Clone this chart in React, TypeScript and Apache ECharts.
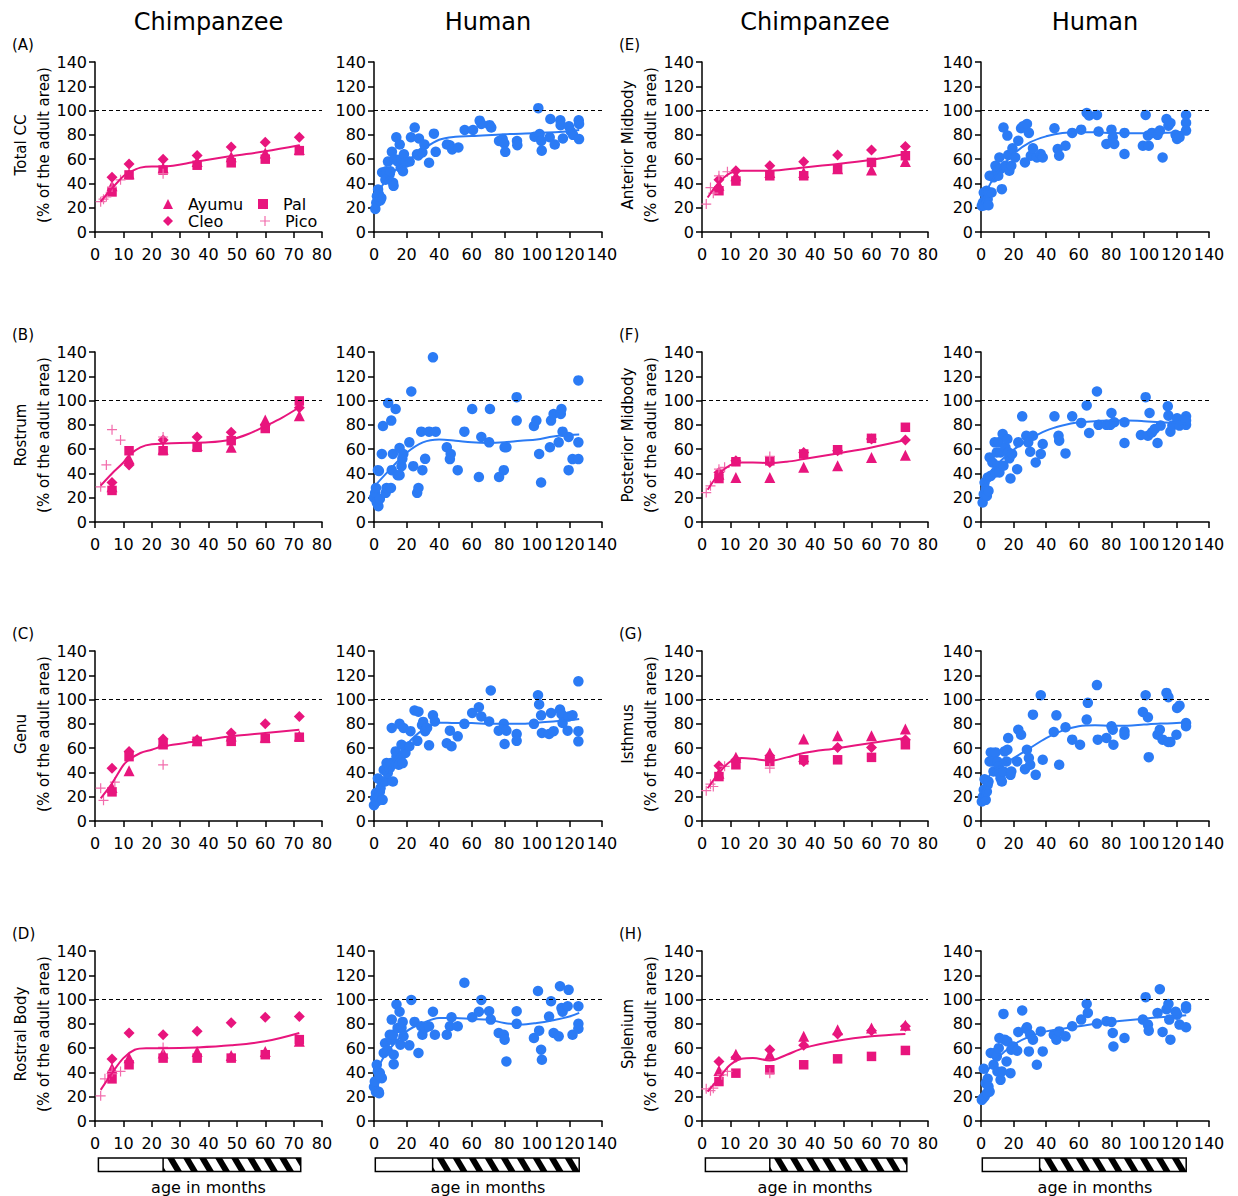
import React, { useEffect, useRef } from "react";
import * as echarts from "echarts";

const PINK = "#E8157D";
const PICO_PINK = "#F26CAC";
const BLUE = "#2B7BF5";
const FONT = "DejaVu Sans";
const PLUS = "path://M4.4,0H5.6V4.4H10V5.6H5.6V10H4.4V5.6H0V4.4H4.4Z";

const COL_TITLES = ["Chimpanzee", "Human", "Chimpanzee", "Human"];
const REGIONS = ["Total CC", "Rostrum", "Genu", "Rostral Body", "Anterior Midbody", "Posterior Midbody", "Isthmus", "Splenium"];
const LETTERS = ["(A)", "(B)", "(C)", "(D)", "(E)", "(F)", "(G)", "(H)"];
const Y_NAME2 = "(% of the adult area)";
const X_NAME = "age in months";
const CHIMP_AGES = [6, 12, 24, 36, 48, 60, 72];

// ---------- Chimpanzee values (Ayumu, Cleo, Pal at CHIMP_AGES; Pico as [age, value]) ----------
const AYUMU_A = [38, 48, 53, 58, 62, 65, 68];
const CLEO_A = [45, 56, 60, 63, 70, 74, 78];
const PAL_A = [33, 47, 51, 55, 57, 60, 67];
const PICO_A = [[2, 25], [3, 27], [4, 29], [6, 37], [9, 43], [24, 48]];
const FIT_A = [[2, 25], [6, 36], [10, 46], [12, 49], [16, 53], [20, 54], [24, 54], [36, 58], [48, 62.5], [60, 66.5], [72, 71.5]];

const AYUMU_B = [29, 52, 60, 63, 61.5, 84, 87.6];
const CLEO_B = [32.5, 47, 67.5, 70, 74, 80, 94];
const PAL_B = [26, 58.7, 58.7, 61.5, 67, 77, 99.7];
const PICO_B = [[2, 29], [4, 47], [6, 76], [9, 67.5], [24, 70]];
const FIT_B = [[2, 30], [6, 40], [10, 49], [12, 55], [16, 61.5], [20, 64], [30, 65], [40, 65.6], [48, 68], [54, 72.5], [60, 79], [66, 86], [72, 94.5]];

const AYUMU_C = [27.5, 41.3, 65.6, 66, 70, 69, 70];
const CLEO_C = [43.5, 57.3, 67.5, 67, 72.5, 80, 86];
const PAL_C = [24, 53, 62.8, 65.6, 65.6, 68, 69];
const PICO_C = [[2, 27], [3, 17], [7, 32], [24, 46.3]];
const FIT_C = [[2, 18.7], [6, 31], [10, 46], [12, 50.4], [16, 56], [20, 58.7], [24, 61.5], [36, 65.6], [48, 69.7], [60, 72.5], [72, 75.2]];

const AYUMU_D = [43.5, 52, 56, 57.3, 54, 57.3, 65.6];
const CLEO_D = [51, 72.5, 71, 74, 81, 85.5, 86];
const PAL_D = [34.7, 46.3, 51.8, 51.8, 51.8, 54.6, 67];
const PICO_D = [[2, 20.7], [3.5, 34.7], [6, 40.8], [9, 40.8], [24, 60.6]];
const FIT_D = [[2, 25.6], [6, 39.4], [10, 51.8], [14, 58.7], [18, 60], [24, 60], [36, 60.6], [48, 62.3], [60, 65.6], [72, 72.5]];

const AYUMU_E = [38.6, 46.3, 49, 49, 52, 51, 58];
const CLEO_E = [43, 50.4, 54.6, 57.9, 63.4, 67.5, 70.5];
const PAL_E = [34, 42, 46.3, 46.3, 52, 57.3, 62.8];
const PICO_E = [[1.5, 23], [3, 36.6], [4, 32], [6, 46.3], [9, 49.6]];
const FIT_E = [[2, 28.4], [6, 40.8], [10, 48.5], [14, 50.4], [20, 50.4], [24, 50.4], [36, 53.2], [48, 56], [60, 59.5], [72, 64.2]];

const AYUMU_F = [39.4, 36.6, 36.6, 45, 46.3, 53.2, 55];
const CLEO_F = [40.8, 50.4, 49, 57.3, 58.7, 68.3, 67.5];
const PAL_F = [35.8, 49.6, 50.4, 56, 59.5, 68.9, 78];
const PICO_F = [[1.5, 24.2], [3, 29.8], [6, 43.5], [8, 45], [24, 54]];
const FIT_F = [[2, 26.5], [6, 39.4], [10, 46.8], [14, 49], [18, 49], [24, 48.5], [30, 49.6], [36, 51.8], [48, 56.5], [60, 61.4], [72, 67.5]];

const AYUMU_G = [39.4, 52.6, 56, 67.5, 70.3, 70.3, 75.8];
const CLEO_G = [45.5, 50.4, 53.7, 49, 60.6, 60.6, 67];
const PAL_G = [36.6, 46.3, 49, 50.4, 50.4, 52.4, 62.8];
const PICO_G = [[1.5, 25], [3, 30.3], [4, 28.4], [8, 45], [24, 43.5]];
const FIT_G = [[2, 27], [6, 39.4], [10, 49], [14, 51.8], [18, 51.2], [24, 49.6], [30, 52.4], [36, 56], [48, 60], [60, 64.2], [72, 68.3]];

const AYUMU_H = [41.6, 55, 55, 69.7, 75.2, 76.6, 78.8];
const CLEO_H = [49, 52.4, 58.7, 62.3, 71.6, 74.4, 78];
const PAL_H = [32.5, 39.4, 42.2, 46.3, 51.2, 53.2, 58.1];
const PICO_H = [[1.5, 26.5], [3, 25], [4, 27], [7, 38], [9, 40.8], [24, 39.4]];
const FIT_H = [[2, 24.2], [6, 35.3], [10, 46.3], [14, 51.2], [18, 51.8], [24, 49.9], [30, 54.6], [36, 60], [48, 66], [60, 69.7], [72, 71.6]];

// ---------- Human values [age, value] ----------
const HUMAN_A = [[0.8, 19], [1.4, 24], [1.8, 29.5], [2.5, 35], [3, 31], [3.9, 26], [4.5, 28], [5, 49], [6, 49], [7.5, 50], [7, 43], [8.6, 58], [9.6, 47.5], [10, 50], [11, 66], [11.7, 40.6], [12, 38], [12.7, 60], [13.7, 78], [14.7, 58], [15.8, 72], [16.4, 53], [16.8, 60], [17.8, 50], [18.4, 64], [19.4, 57], [21.9, 58], [22.7, 78], [25, 86], [26.4, 64], [27.6, 77], [27.2, 63], [29.7, 65.5], [31, 72], [33.8, 57], [36.8, 81], [37.9, 66], [44.8, 72], [46.5, 71.5], [48, 68], [51.8, 69.6], [55.7, 84], [60.8, 84], [64.9, 91.7], [65.9, 89], [71, 88], [72, 86], [76.8, 75], [79, 76.5], [80, 73], [80.6, 66], [87.8, 75], [88, 71.5], [98.6, 78.5], [100.9, 102], [101.7, 80.7], [102.7, 75], [103, 67], [108.3, 93], [107.9, 78], [111, 72], [114.4, 92], [114.6, 88], [116, 77], [119.7, 87], [120.8, 83], [122.2, 80], [125.7, 92], [125.9, 89], [125.9, 76.5]];
const FIT_HA = [[0.8, 25], [5, 38], [10, 47], [15, 53], [20, 58], [30, 68], [40, 76], [50, 78.5], [60, 79], [80, 80.5], [100, 81.5], [120, 83], [126, 84]];

const HUMAN_B = [[0, 20], [0.7, 24], [1.2, 28], [1.7, 16], [2.7, 13], [3.6, 19], [2.4, 42.7], [3, 42], [4.8, 56], [5.5, 79], [7.2, 24], [7.7, 28], [8.7, 98], [10.4, 28], [10.6, 83.5], [10.9, 42.7], [11.6, 56], [13.3, 93], [14.5, 38.6], [15.7, 38.6], [15.7, 61], [16.9, 46], [17.4, 52], [18, 56], [21.7, 65.6], [22.9, 107.5], [24.1, 46], [26.5, 24], [27.3, 28], [29, 74.4], [29.7, 42.7], [31.4, 52], [33.8, 74.4], [36.2, 135.6], [37.9, 74.4], [44.7, 61.5], [46.6, 51.8], [47.1, 56], [51.4, 42.7], [55.5, 74.4], [60.3, 93], [64.4, 37], [65.9, 70], [70.7, 65.6], [71.2, 93], [76.8, 37], [79.7, 42.7], [80.2, 61.5], [81.3, 61.5], [87.6, 102.8], [87.6, 83.5], [98.2, 79], [99.7, 83.5], [101.4, 56], [102.6, 32.5], [108, 61.5], [108.7, 83.5], [110.3, 89], [113.4, 65.6], [114.7, 89], [115.1, 93], [115.8, 74.4], [119.5, 70], [119.5, 42.7], [121.9, 51.8], [125.5, 51.8], [125.5, 116.6], [125.5, 65.6]];
const FIT_HB = [[0.7, 30], [10, 43.5], [20, 57], [30, 65.6], [40, 68], [50, 67], [60, 65.6], [70, 65], [80, 65.6], [90, 67], [100, 68], [110, 70.5], [120, 71.6], [126, 72]];

const HUMAN_C = [[0, 13], [0.7, 18.7], [1.2, 23], [1.7, 16], [2.4, 35], [3, 20], [3.6, 24], [4, 27], [4.8, 32.5], [5.3, 17.4], [6, 42], [6.8, 32.5], [7.7, 47.7], [8.4, 39.4], [9.7, 43.5], [10.4, 47.7], [10.9, 76.6], [11.6, 32.5], [13.3, 57.3], [13.8, 53], [15.2, 46.3], [15.7, 80], [16.2, 51.8], [16.9, 62.8], [17.6, 47.7], [18.1, 76.6], [19.3, 56], [21.7, 61.5], [22.4, 74], [24.9, 91], [27.3, 90], [26.6, 66], [29.5, 79], [30.2, 81.6], [31.4, 74], [32.6, 76.6], [33.8, 62.3], [36.2, 87], [37.4, 82], [44.7, 64], [46.6, 74.4], [47.6, 61.5], [51.4, 69.7], [55.5, 80], [60.3, 89], [64.4, 93.7], [65.9, 86], [70.7, 82], [71.7, 107.5], [76.6, 74.4], [79.7, 80], [80.2, 63.4], [81.3, 74.4], [87.6, 71.6], [87.6, 66], [98.2, 80], [100.7, 103.6], [101.4, 96], [102.6, 87], [103.1, 72.5], [107.5, 71.6], [108.7, 89], [110.3, 74], [114.2, 91.8], [115.1, 88], [115.8, 80.7], [118.9, 74.4], [119.5, 86], [121.9, 87], [125.5, 115], [125.5, 74], [125.5, 65.6]];
const FIT_HC = [[0.5, 16], [5, 32.5], [10, 45], [20, 62.8], [30, 75], [40, 81], [50, 80.7], [60, 80.7], [70, 80], [80, 80], [90, 80], [100, 81], [110, 82], [120, 83], [126, 84]];

const HUMAN_D = [[0, 28], [0.5, 32.5], [1.2, 24], [1.7, 46.3], [2.4, 40.8], [2.9, 24], [3.1, 22.8], [3.6, 39.4], [4, 36.6], [4.8, 35.3], [6, 56], [6.8, 64], [8.4, 58], [9.7, 71], [10.9, 67], [10.9, 83.5], [11.6, 71], [12.1, 54.6], [12.1, 46.8], [13.8, 96], [14.5, 76.6], [15.7, 90], [16.2, 62.8], [16.9, 76.6], [17.6, 81.6], [18.1, 69.7], [21.7, 62.3], [22.9, 99.7], [24.9, 81.6], [27.3, 56], [29, 78], [29.7, 71], [31.4, 76.6], [33.8, 78], [36.2, 90], [37.4, 71], [44.7, 71], [46.6, 78], [47.6, 85.4], [51.4, 78], [55.5, 113.8], [60.3, 85.4], [64.4, 90], [65.9, 99.7], [70.7, 90.4], [71.7, 83.5], [76.6, 72.5], [79.7, 71], [80.2, 67], [81.3, 49], [87.6, 90.4], [87.6, 80], [98.2, 68.3], [100.7, 107], [101.4, 74.4], [102.6, 58.7], [103.1, 50.4], [107.5, 86], [108.7, 98.6], [110.3, 72.5], [113.4, 69.7], [114.2, 111], [115.1, 93], [115.8, 90], [119.5, 108], [118.9, 94.5], [121.9, 71], [125.5, 94.5], [125.5, 80], [125.5, 76]];
const FIT_HD = [[0.5, 36.6], [5, 50.4], [10, 60], [20, 73.8], [30, 80.7], [40, 84.9], [50, 84.9], [60, 84], [70, 83.5], [80, 80.7], [90, 79.4], [100, 80.7], [110, 83], [120, 86], [126, 89]];

const HUMAN_E = [[0.5, 21.5], [1.2, 24.2], [1.7, 32.5], [2.2, 22], [2.9, 28.4], [3.4, 33.9], [4.1, 27], [4.6, 32.5], [4.6, 22], [5.3, 46.3], [6.5, 32.5], [7.7, 45], [8.9, 54.6], [9.7, 50.4], [10.6, 46.3], [11.3, 61.4], [12, 52], [12.8, 35.3], [13.8, 86], [15, 54.6], [16.2, 79.4], [16.7, 63.4], [17.4, 50.4], [18.6, 54.6], [19.3, 68.9], [21, 61.4], [22.9, 75.2], [24.6, 85.4], [25.8, 87], [27, 57.3], [28.2, 89], [29.4, 81.6], [30.6, 62.8], [31.9, 68.9], [34.3, 61.4], [36.7, 64.2], [37.9, 61.4], [45.1, 85.4], [47.1, 68.3], [48, 62.8], [51.9, 71], [56, 81.6], [61.5, 84.3], [64.9, 98], [66.4, 95.9], [71.2, 96.4], [72.2, 82.7], [77, 72.5], [80.1, 84.3], [80.9, 78], [81.8, 72.5], [88.1, 81.6], [88.1, 64.2], [99.4, 71], [101.1, 96.4], [102.5, 79.4], [103, 71], [105, 81.6], [108.4, 80], [109.8, 83.5], [111.5, 61.4], [113.9, 93], [115.1, 87.6], [116.3, 89.8], [119.5, 80], [120.4, 76.6], [121.9, 78], [125.9, 96.4], [125.9, 89.8], [125.9, 83.5]];
const FIT_HE = [[0.5, 23], [5, 38], [10, 49], [20, 64.2], [30, 73.8], [40, 78.8], [50, 81.6], [60, 82.1], [70, 82.1], [80, 81.6], [90, 81.3], [100, 81.3], [110, 81.6], [120, 82.1], [126, 83]];

const HUMAN_F = [[1, 16], [1.7, 22.9], [2.2, 32.5], [2.9, 27], [3.6, 21.5], [4.1, 36.6], [4.6, 25.6], [5.3, 53.2], [6, 38], [7, 49], [8.4, 65.6], [8.9, 40.8], [9.7, 57.3], [10.1, 46.3], [10.9, 65.6], [11.3, 40.8], [12, 57.3], [13.3, 72.5], [13.8, 46.3], [15, 61.4], [16.2, 68.3], [16.7, 57.3], [17.4, 52.4], [18.1, 35.8], [19.1, 56], [22.2, 43.5], [22.9, 65.6], [25.3, 87], [27.8, 71], [29, 65.6], [30.2, 57.9], [31.9, 71], [33.6, 49], [36.7, 56], [37.9, 64.2], [45.1, 87], [47.6, 71], [48, 67], [51.9, 56.5], [56, 87], [61.5, 81.6], [64.9, 96], [66.4, 73.3], [71.2, 107.5], [72.2, 80], [77, 80], [79.4, 80], [80.1, 89.8], [81.8, 82.1], [88.1, 82.1], [88.1, 65], [98.2, 71.6], [101.1, 102.8], [102.5, 71], [103.5, 89.8], [105, 73.8], [106.7, 76.6], [108.4, 65], [110.3, 79.4], [114.7, 95.3], [115.1, 87.6], [116.3, 74.4], [117.5, 79.4], [120.4, 85.4], [121.9, 79.4], [125.9, 87], [125.9, 80], [125.9, 83.5]];
const FIT_HF = [[0.5, 24.2], [5, 39.4], [10, 47.7], [20, 59.5], [30, 68.3], [40, 75.2], [50, 79.4], [60, 82.1], [70, 83], [80, 83.5], [90, 83.5], [100, 83], [110, 82.1], [120, 81.6], [126, 81.3]];

const HUMAN_G = [[0.5, 16], [1.2, 20], [1.7, 25.6], [2.2, 34.4], [2.9, 17.4], [3.6, 24.2], [4.1, 29.8], [4.6, 32.5], [5.3, 49], [6, 56.5], [7, 49], [7.7, 40.8], [8.9, 56.5], [10.1, 49], [10.9, 45], [11.3, 39.4], [12, 35.3], [12.8, 32.5], [13.8, 40.8], [14.5, 57.3], [15.7, 49], [16.2, 58.7], [16.7, 68.3], [18.1, 38], [18.6, 40.8], [22.2, 49], [22.9, 75.2], [24.6, 71], [27, 42.7], [28.2, 58.7], [29.4, 51.8], [30.2, 46.3], [31.9, 87.6], [33.6, 38], [36.7, 103.6], [37.9, 50.4], [44.7, 73.3], [46.3, 87], [48, 46.3], [51.9, 77.2], [56, 67], [60.8, 62.8], [64.9, 83.5], [65.6, 97.3], [71.2, 111.9], [71.7, 67], [77, 68.3], [80.1, 78], [80.9, 75.2], [81.3, 62.8], [88.1, 73.8], [88.1, 71], [99.4, 89.8], [101.1, 103.6], [102.5, 85.4], [103, 52.6], [108.4, 71], [109.8, 75.2], [111.5, 67], [113.9, 105.5], [115.1, 102], [116.3, 65], [115, 65], [120, 71], [120.4, 93], [121.9, 95], [125.9, 80.7], [125.9, 78]];
const FIT_HG = [[0.5, 18.7], [5, 37], [10, 43.5], [20, 51.8], [30, 60], [40, 68.3], [50, 74.4], [60, 78], [70, 78.8], [80, 78.5], [90, 78.5], [100, 79.4], [110, 80.2], [120, 80.7], [126, 81.6]];

const HUMAN_H = [[0.5, 17.4], [1.2, 18.7], [1.7, 43], [2.2, 20], [2.9, 31], [3.6, 22.9], [4.1, 34.7], [4.6, 28.4], [5.3, 24.2], [6, 56], [7.7, 46.3], [8.4, 56], [9.7, 53.2], [10.1, 40.8], [10.9, 60], [11.3, 68.3], [12, 33.9], [12.8, 40.8], [13.8, 88.2], [14.5, 67], [15.7, 49], [16.2, 65.6], [18.1, 39.4], [18.6, 58.7], [19.8, 61.4], [22.2, 57.9], [22.9, 73.3], [25.3, 91], [27.8, 76], [28.2, 77.2], [29.4, 57.3], [30.2, 71], [31.9, 67], [34.3, 46.3], [36.7, 73.8], [37.9, 57.3], [44.7, 71], [46.3, 67], [48, 73.8], [51.9, 69.7], [56, 78], [61.5, 83.5], [64.9, 96.4], [65.6, 89], [71.2, 80.2], [77, 82.1], [80.1, 81.6], [80.9, 72.5], [81.3, 61.4], [88.1, 68.3], [99.4, 83.5], [101.1, 102], [102.5, 79.4], [103, 74.4], [108.4, 89], [109.8, 108.5], [111.5, 73.3], [113.9, 92], [115.1, 96.4], [115.6, 83.5], [116.3, 67], [119.5, 90], [120.4, 87.6], [121.9, 79.4], [125.9, 94.5], [125.9, 92.6], [125.9, 77.2]];
const FIT_HH = [[0.5, 29.8], [5, 43.5], [10, 51.8], [20, 62.8], [30, 69.7], [40, 73.8], [50, 76], [60, 78], [70, 80], [80, 81.6], [90, 83], [100, 84.3], [110, 85.4], [120, 86.2], [126, 87]];

const AYUMU = [AYUMU_A, AYUMU_B, AYUMU_C, AYUMU_D, AYUMU_E, AYUMU_F, AYUMU_G, AYUMU_H];
const CLEO = [CLEO_A, CLEO_B, CLEO_C, CLEO_D, CLEO_E, CLEO_F, CLEO_G, CLEO_H];
const PAL = [PAL_A, PAL_B, PAL_C, PAL_D, PAL_E, PAL_F, PAL_G, PAL_H];
const PICO = [PICO_A, PICO_B, PICO_C, PICO_D, PICO_E, PICO_F, PICO_G, PICO_H];
const CHIMP_FIT = [FIT_A, FIT_B, FIT_C, FIT_D, FIT_E, FIT_F, FIT_G, FIT_H];
const HUMAN = [HUMAN_A, HUMAN_B, HUMAN_C, HUMAN_D, HUMAN_E, HUMAN_F, HUMAN_G, HUMAN_H];
const HUMAN_FIT = [FIT_HA, FIT_HB, FIT_HC, FIT_HD, FIT_HE, FIT_HF, FIT_HG, FIT_HH];

// juvenile / adolescent period bars [start, split, end] in months
const CHIMP_PERIOD = [1.2, 24, 72.5];
const HUMAN_PERIOD = [0.8, 36, 126];

// ---------- layout ----------
const COL_LEFT = [95, 374, 702, 981];
const COL_W = [227, 228, 226, 228];
const ROW_TOP = [62, 352, 651, 951];
const GRID_H = 170;
const BAR_Y0 = 1158;
const BAR_Y1 = 1171.5;

function clipPoly(pts: number[][], xEdge: number, keepGreater: boolean) {
  const out: number[][] = [];
  const inside = (p: number[]) => (keepGreater ? p[0] >= xEdge : p[0] <= xEdge);
  const cross = (a: number[], b: number[]) => {
    const t = (xEdge - a[0]) / (b[0] - a[0]);
    return [xEdge, a[1] + t * (b[1] - a[1])];
  };
  for (let i = 0; i < pts.length; i++) {
    const cur = pts[i];
    const prev = pts[(i + pts.length - 1) % pts.length];
    const ci = inside(cur);
    const pi = inside(prev);
    if (ci) {
      if (!pi) out.push(cross(prev, cur));
      out.push(cur);
    } else if (pi) {
      out.push(cross(prev, cur));
    }
  }
  return out;
}

function buildOption() {
  const grid: any[] = [];
  const xAxis: any[] = [];
  const yAxis: any[] = [];
  const series: any[] = [];
  const elements: any[] = [];

  const axisCommon = {
    axisLine: { show: true, onZero: false, lineStyle: { color: "#000", width: 1.5 } },
    axisTick: { show: true, length: 6, lineStyle: { color: "#000", width: 1.5 } },
    splitLine: { show: false },
  };
  const labelCommon = { color: "#000", fontSize: 16, fontFamily: FONT };

  const refLine = {
    silent: true,
    symbol: ["none", "none"],
    label: { show: false },
    lineStyle: { color: "#000", type: [4, 3], width: 1 },
    data: [{ yAxis: 100 }],
  };

  for (let p = 0; p < 8; p++) {
    const half = Math.floor(p / 4);
    const row = p % 4;
    for (let k = 0; k < 2; k++) {
      const col = half * 2 + k;
      grid.push({ left: COL_LEFT[col], top: ROW_TOP[row], width: COL_W[col], height: GRID_H, containLabel: false });
      const gi = p * 2 + k;
      xAxis.push({
        gridIndex: gi,
        type: "value",
        min: 0,
        max: k ? 140 : 80,
        interval: k ? 20 : 10,
        ...axisCommon,
        axisLabel: { ...labelCommon, margin: 14, showMaxLabel: true, showMinLabel: true },
      });
      yAxis.push({
        gridIndex: gi,
        type: "value",
        min: 0,
        max: 140,
        interval: 20,
        ...axisCommon,
        axisLabel: { ...labelCommon, margin: 8, showMaxLabel: true },
      });
    }
    const ci = p * 2;
    const hi = p * 2 + 1;
    const sc = (name: string, symbol: string, size: number, color: string, data: any[]) => ({
      type: "scatter",
      name,
      xAxisIndex: ci,
      yAxisIndex: ci,
      symbol,
      symbolSize: size,
      itemStyle: { color, opacity: 1 },
      data,
      z: 3,
    });
    series.push(sc("Ayumu", "triangle", 11, PINK, CHIMP_AGES.map((a, i) => [a, AYUMU[p][i]])));
    series.push(sc("Cleo", "diamond", 11, PINK, CHIMP_AGES.map((a, i) => [a, CLEO[p][i]])));
    series.push(sc("Pal", "rect", 9.5, PINK, CHIMP_AGES.map((a, i) => [a, PAL[p][i]])));
    series.push(sc("Pico", PLUS, 10, PICO_PINK, PICO[p]));
    series.push({
      type: "line",
      name: "chimp fit " + LETTERS[p],
      xAxisIndex: ci,
      yAxisIndex: ci,
      data: CHIMP_FIT[p],
      smooth: 0.35,
      showSymbol: false,
      symbol: "none",
      lineStyle: { color: PINK, width: 2 },
      z: 4,
      markLine: refLine,
    });
    series.push({
      type: "scatter",
      name: "human " + LETTERS[p],
      xAxisIndex: hi,
      yAxisIndex: hi,
      symbol: "circle",
      symbolSize: 10.5,
      itemStyle: { color: BLUE, opacity: 1 },
      data: HUMAN[p],
      z: 3,
    });
    series.push({
      type: "line",
      name: "human fit " + LETTERS[p],
      xAxisIndex: hi,
      yAxisIndex: hi,
      data: HUMAN_FIT[p],
      smooth: 0.35,
      showSymbol: false,
      symbol: "none",
      lineStyle: { color: BLUE, width: 2 },
      z: 4,
      markLine: refLine,
    });

    // panel letter and y-axis names
    const axisX = COL_LEFT[half * 2];
    const midY = ROW_TOP[row] + GRID_H / 2 - 2;
    elements.push({
      type: "text",
      x: axisX - 83,
      y: ROW_TOP[row] - 17,
      style: { text: LETTERS[p], fontSize: 15, fontFamily: FONT, fill: "#000", textAlign: "left", align: "left", textVerticalAlign: "middle", verticalAlign: "middle" },
    });
    elements.push({
      type: "text",
      x: axisX - 74,
      y: midY,
      rotation: Math.PI / 2,
      style: { text: REGIONS[p], fontSize: 15, fontFamily: FONT, fill: "#000", textAlign: "center", align: "center", textVerticalAlign: "middle", verticalAlign: "middle" },
    });
    elements.push({
      type: "text",
      x: axisX - 51,
      y: midY,
      rotation: Math.PI / 2,
      style: { text: Y_NAME2, fontSize: 15, fontFamily: FONT, fill: "#000", textAlign: "center", align: "center", textVerticalAlign: "middle", verticalAlign: "middle" },
    });
  }

  // column titles, period bars, x names
  for (let col = 0; col < 4; col++) {
    const isHuman = col % 2 === 1;
    const L = COL_LEFT[col];
    const W = COL_W[col];
    const max = isHuman ? 140 : 80;
    const per = isHuman ? HUMAN_PERIOD : CHIMP_PERIOD;
    const toX = (v: number) => L + (v / max) * W;
    elements.push({
      type: "text",
      x: L + W / 2,
      y: 22,
      style: { text: COL_TITLES[col], fontSize: 24, fontFamily: FONT, fill: "#000", textAlign: "center", align: "center", textVerticalAlign: "middle", verticalAlign: "middle" },
    });
    elements.push({
      type: "text",
      x: L + W / 2,
      y: 1187,
      style: { text: X_NAME, fontSize: 16, fontFamily: FONT, fill: "#000", textAlign: "center", align: "center", textVerticalAlign: "middle", verticalAlign: "middle" },
    });
    const xs = toX(per[0]);
    const xb = toX(per[1]);
    const xe = toX(per[2]);
    elements.push({ type: "rect", shape: { x: xs, y: BAR_Y0, width: xe - xs, height: BAR_Y1 - BAR_Y0 }, style: { fill: "#fff", stroke: "none" }, z: 10 });
    const period = 16;
    const sw = 7;
    const slant = 8;
    for (let t = xb - slant - sw + 3; t < xe; t += period) {
      let poly = [[t, BAR_Y0], [t + sw, BAR_Y0], [t + sw + slant, BAR_Y1], [t + slant, BAR_Y1]];
      poly = clipPoly(poly, xb, true);
      if (poly.length >= 3) poly = clipPoly(poly, xe, false);
      if (poly.length >= 3) {
        elements.push({ type: "polygon", shape: { points: poly }, style: { fill: "#000", stroke: "none" }, z: 11 });
      }
    }
    elements.push({ type: "line", shape: { x1: xb, y1: BAR_Y0, x2: xb, y2: BAR_Y1 }, style: { stroke: "#000", lineWidth: 1.5 }, z: 12 });
    elements.push({ type: "rect", shape: { x: xs, y: BAR_Y0, width: xe - xs, height: BAR_Y1 - BAR_Y0 }, style: { fill: "none", stroke: "#000", lineWidth: 1.5 }, z: 12 });
  }

  const legendCommon = {
    orient: "horizontal",
    itemWidth: 10,
    itemHeight: 10,
    padding: 0,
    selectedMode: false,
    textStyle: { color: "#000", fontSize: 16, fontFamily: FONT, lineHeight: 16, padding: [0, 0, 0, 10] },
  };
  const legend = [
    { ...legendCommon, left: 163, top: 196, data: [{ name: "Ayumu", icon: "triangle" }] },
    { ...legendCommon, left: 258, top: 196, data: [{ name: "Pal", icon: "rect" }] },
    { ...legendCommon, left: 163, top: 213, data: [{ name: "Cleo", icon: "diamond" }] },
    { ...legendCommon, left: 260, top: 213, data: [{ name: "Pico", icon: PLUS }] },
  ];

  return {
    animation: false,
    backgroundColor: "#fff",
    textStyle: { fontFamily: FONT },
    grid,
    xAxis,
    yAxis,
    legend,
    series,
    graphic: { elements },
  };
}

export default function App() {
  const ref = useRef<HTMLDivElement>(null);
  useEffect(() => {
    document.body.style.margin = "0";
    if (!ref.current) return;
    const chart = echarts.init(ref.current, undefined, { renderer: "svg" });
    chart.setOption(buildOption() as any);
    return () => chart.dispose();
  }, []);
  return <div ref={ref} style={{ width: 1238, height: 1196, background: "#fff" }} />;
}
